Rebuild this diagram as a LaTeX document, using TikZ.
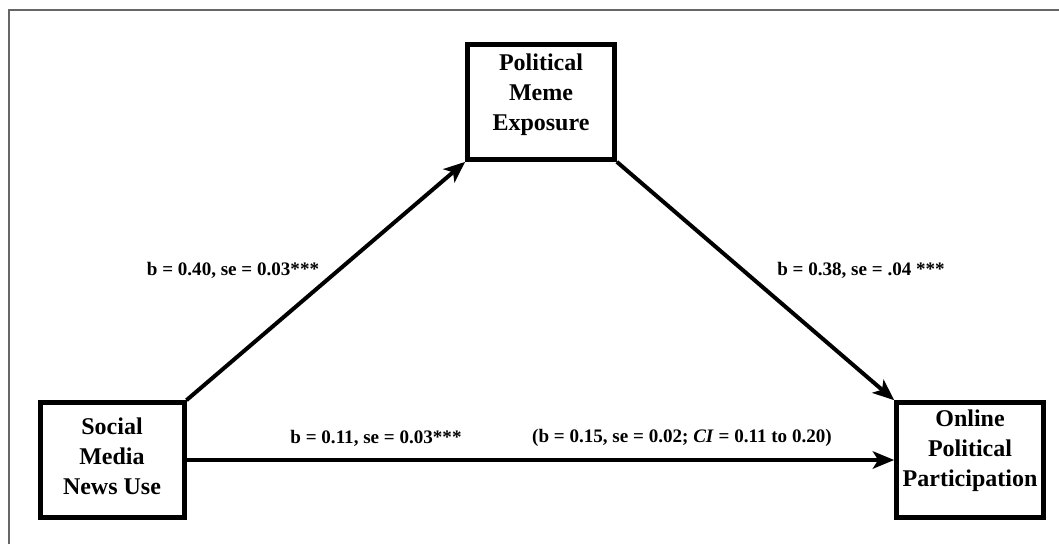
\documentclass[tikz,border=0pt]{standalone}
\usepackage{fontspec}
\setmainfont{Liberation Serif}
\usetikzlibrary{arrows.meta}
\tikzset{
  box/.style={draw=black, line width=3.75pt, minimum width=110pt, minimum height=86pt, inner sep=0pt},
  boxtext/.style={align=center, font=\bfseries\fontsize{18}{22.5}\selectfont, inner sep=0pt},
  lab/.style={font=\bfseries\fontsize{14.3}{17}\selectfont, inner sep=0pt},
  arr/.style={line width=3pt, -{Stealth[length=16pt, width=13pt, inset=4pt]}},
  frame/.style={draw=black!60, line width=1.5pt}
}
\begin{document}
\begin{tikzpicture}[x=0.75pt, y=-0.75pt]
\useasboundingbox (0,0) rectangle (1059,544);
\draw[frame] (8.5,544) -- (8.5,9.5) -- (1059,9.5);
% boxes
\node[box] (m) at (541,102) {};
\node[boxtext] (mt) at (541,95) {Political\\Meme\\Exposure};
\node[box, minimum width=108pt] (s) at (112,460) {};
\node[boxtext] (st) at (112,456) {Social\\Media\\News Use};
\node[box, minimum width=110pt] (o) at (970,460) {};
\node[boxtext] (ot) at (970,451) {Online\\Political\\Participation};
% connectors
\draw[arr] (s.north east) -- (m.south west);
\draw[arr] (m.south east) -- (o.north west);
\draw[arr] (s.east) -- (o.west);
% labels
\node[lab] (l1) at (233,270) {b = 0.40, se = 0.03***};
\node[lab] (l2) at (861,270) {b = 0.38, se = .04 ***};
\node[lab] (l3) at (376,438) {b = 0.11, se = 0.03***};
\node[lab] (l4) at (682,438) {(b = 0.15, se = 0.02; \textit{CI} = 0.11 to 0.20)};
\end{tikzpicture}
\end{document}
